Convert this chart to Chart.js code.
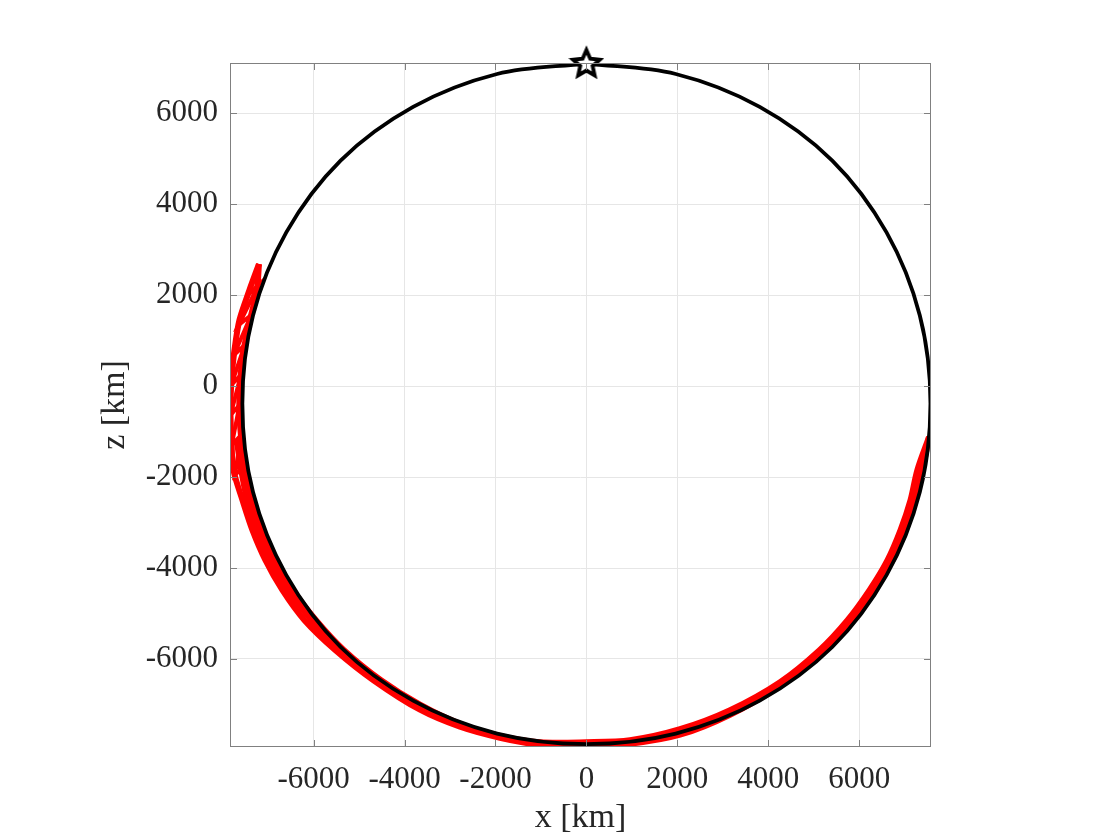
<!DOCTYPE html>
<html>
<head>
<meta charset="utf-8">
<script src="https://cdn.jsdelivr.net/npm/chart.js@4/dist/chart.umd.min.js"></script>
<style>
  body { margin: 0; background: #fff; }
</style>
</head>
<body>
<canvas id="orbitChart" width="1120" height="840"></canvas>
<script>
// tick values (km)
const xTicks = [-6000, -4000, -2000, 0, 2000, 4000, 6000];
const zTicks = [-6000, -4000, -2000, 0, 2000, 4000, 6000];

// reference orbit (black), starting at the top
const orbitX = [0, -1965, -3812, -5408, -6602, -7334, -7568, -7334, -6602, -5408, -3812, -1965,
  0, 1965, 3812, 5408, 6602, 7334, 7568, 7334, 6602, 5408, 3812, 1965, 0];
const orbitZ = [7094, 6863, 6140, 4960, 3381, 1554, -388, -2330, -4157, -5736, -6916, -7639,
  -7870, -7639, -6916, -5736, -4157, -2330, -388, 1554, 3381, 4960, 6140, 6863, 7094];

// red trajectory, outer edge of the band
const outerX = [-7203, -7412, -7632, -7742, -7808, -7830, -7808, -7764, -7566, -7346, -7060, -6686,
  -6202, -5520, -4684, -3661, -2781, -1901, -1021, -9, 959, 2059, 3159, 4259,
  5238, 5854, 6338, 6734, 7020, 7240, 7390, 7537];
const outerZ = [2686, 2114, 1454, 794, 134, -526, -1186, -1846, -2506, -3166, -3826, -4486,
  -5146, -5806, -6466, -7115, -7489, -7731, -7885, -7907, -7863, -7665, -7225, -6587,
  -5806, -5146, -4486, -3826, -3166, -2506, -1846, -1120];

// red trajectory, inner edge of the band (next to the black orbit)
const innerX = [-7203, -7247, -7401, -7539, -7616, -7634, -7590, -7489, -7357, -7137, -6829, -6455,
  -5949, -5333, -4519, -3661, -2781, -1901, -1021, -9, 959, 2059, 3159, 4259,
  5128, 5744, 6228, 6624, 6910, 7130, 7280, 7537];
const innerZ = [2686, 2114, 1454, 794, 134, -526, -1186, -1846, -2506, -3166, -3826, -4486,
  -5146, -5806, -6466, -7005, -7423, -7689, -7830, -7830, -7786, -7544, -7126, -6510,
  -5806, -5146, -4486, -3826, -3166, -2506, -1846, -1120];

// red trajectory, middle of the band on the lower left
const midX = [-7693, -7592, -7460, -7240, -6932, -6558, -6052, -5436, -4622, -3661];
const midZ = [-1186, -1846, -2506, -3166, -3826, -4486, -5146, -5806, -6466, -7060];

// red trajectory, zig-zag on the upper left
const zigX = [-7203, -7449, -7214, -7649, -7374, -7753, -7517, -7812, -7603, -7825, -7632, -7801,
  -7599, -7731, -7506];
const zigZ = [2686, 2004, 2224, 1344, 1564, 684, 904, 24, 244, -636, -416, -1296,
  -1076, -1956, -1736];

// start marker
const startX = [0];
const startZ = [7105];

const toPoints = (xs, zs) => xs.map((v, i) => ({ x: v, y: zs[i] }));

// pentagram marker
function makeStar() {
  const c = document.createElement('canvas');
  c.width = 36; c.height = 36;
  const g = c.getContext('2d');
  g.beginPath();
  for (let i = 0; i < 10; i++) {
    const r = i % 2 === 0 ? 14 : 6.5;
    const a = -Math.PI / 2 + i * Math.PI / 5;
    const px = 18 + r * Math.cos(a), py = 19 + r * Math.sin(a);
    if (i === 0) g.moveTo(px, py); else g.lineTo(px, py);
  }
  g.closePath();
  g.fillStyle = '#fff';
  g.fill();
  g.lineWidth = 3.8;
  g.strokeStyle = '#000';
  g.stroke();
  return c;
}

const axisBox = {
  id: 'axisBox',
  afterDraw(chart) {
    const { ctx, chartArea: a, scales: { x, y } } = chart;
    ctx.save();
    ctx.strokeStyle = '#808080';
    ctx.lineWidth = 1;
    ctx.strokeRect(a.left + 0.5, a.top + 0.5, a.width - 1, a.height - 1);
    ctx.beginPath();
    xTicks.forEach((v) => {
      const px = Math.round(x.getPixelForValue(v)) + 0.5;
      ctx.moveTo(px, a.bottom); ctx.lineTo(px, a.bottom - 7);
      ctx.moveTo(px, a.top); ctx.lineTo(px, a.top + 7);
    });
    zTicks.forEach((v) => {
      const py = Math.round(y.getPixelForValue(v)) + 0.5;
      ctx.moveTo(a.left, py); ctx.lineTo(a.left + 7, py);
      ctx.moveTo(a.right, py); ctx.lineTo(a.right - 7, py);
    });
    ctx.stroke();
    ctx.restore();
  }
};

const redLine = (data, width, tension) => ({
  data,
  borderColor: '#ff0000',
  borderWidth: width,
  showLine: true,
  pointRadius: 0,
  tension,
  order: 2
});

const tickFont = { family: 'Liberation Serif', size: 31 };
const titleFont = { family: 'Liberation Serif', size: 34 };

new Chart(document.getElementById('orbitChart').getContext('2d'), {
  type: 'scatter',
  data: {
    datasets: [
      {
        data: toPoints(startX, startZ),
        pointStyle: makeStar(),
        pointRadius: 15,
        clip: false,
        order: 0
      },
      {
        data: toPoints(orbitX, orbitZ),
        borderColor: '#000',
        borderWidth: 3.8,
        showLine: true,
        pointRadius: 0,
        tension: 0.35,
        order: 1
      },
      redLine(toPoints(outerX, outerZ), 6, 0.3),
      redLine(toPoints(innerX, innerZ), 6, 0.3),
      redLine(toPoints(midX, midZ), 6, 0.3),
      redLine(toPoints(zigX, zigZ), 4, 0)
    ]
  },
  options: {
    responsive: false,
    animation: false,
    layout: { padding: { top: 63, right: 189, left: 95, bottom: 0 } },
    plugins: { legend: { display: false }, tooltip: { enabled: false } },
    scales: {
      x: {
        min: -7840,
        max: 7580,
        afterBuildTicks: (s) => { s.ticks = xTicks.map((v) => ({ value: v })); },
        afterFit: (s) => { s.height = 93; },
        grid: { color: '#e6e6e6', drawTicks: false },
        border: { display: false },
        ticks: { font: tickFont, color: '#262626', padding: 14, maxRotation: 0, callback: (v) => String(v) },
        title: { display: true, text: 'x [km]', font: titleFont, color: '#262626', padding: { top: 0, bottom: 2 } }
      },
      y: {
        min: -7935,
        max: 7105,
        afterBuildTicks: (s) => { s.ticks = zTicks.map((v) => ({ value: v })); },
        afterFit: (s) => { s.width = 135; },
        grid: { color: '#e6e6e6', drawTicks: false },
        border: { display: false },
        ticks: { font: tickFont, color: '#262626', padding: 12, callback: (v) => String(v) },
        title: { display: true, text: 'z [km]', font: titleFont, color: '#262626', padding: 0 }
      }
    }
  },
  plugins: [axisBox]
});
</script>
</body>
</html>
